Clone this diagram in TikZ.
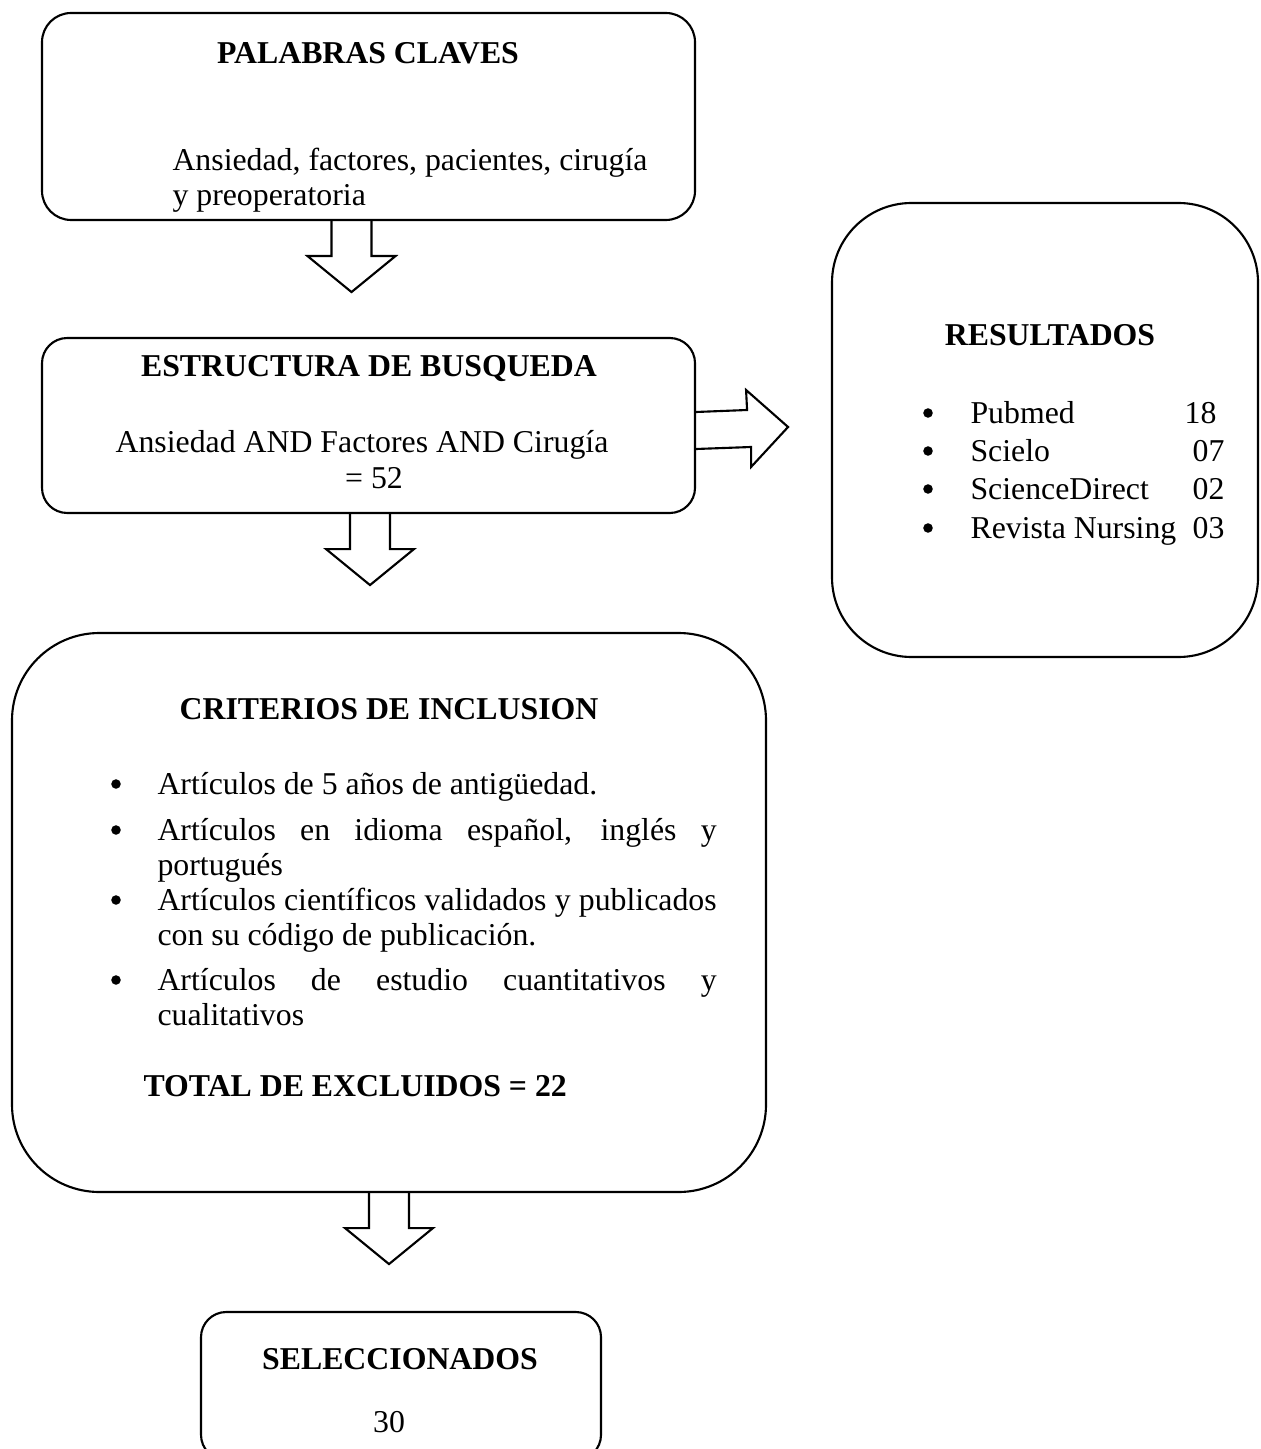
\documentclass[tikz,border=0pt]{standalone}
\usepackage{fontspec}
\setmainfont{Liberation Serif}
\usetikzlibrary{fit,calc}

\newcommand{\fullline}[1]{\makebox[211pt][s]{#1}}

\tikzset{
	box/.style={draw, line width=0.8pt, inner sep=0pt},
	heading/.style={font=\fontsize{12}{13.5}\selectfont\bfseries, anchor=base},
	line/.style={anchor=base west},
	dot/.style={circle, fill, minimum size=3.6pt},
	blk/.style={draw, line width=0.8pt, line join=miter},
	downblk/.pic={\draw[blk] (-20,0) -- (-20,35) -- (-44,35) -- (0,71) -- (44,35) -- (20,35) -- (20,0);},
	rightblk/.pic={\draw[blk] (0,-13.5) -- (51,-15.5) -- (50,-35.5) -- (92,1.5) -- (55,41.5) -- (55,21.5) -- (0,23.5);}
}

\begin{document}
\begin{tikzpicture}[x=0.3774pt, y=-0.3774pt, every node/.style={inner sep=0pt, font=\fontsize{12}{13.5}\selectfont}]
	\useasboundingbox (0,0) rectangle (1260,1449);

	% boxes
	\node[box, rounded corners=11pt, fit={(42,13) (695,220)}] (pal) {};
	\node[box, rounded corners=9.5pt, fit={(42,338) (695,513)}] (est) {};
	\node[box, rounded corners=30pt, fit={(832,203) (1258,657)}] (res) {};
	\node[box, rounded corners=33pt, fit={(12,633) (766,1192)}] (cri) {};
	\node[box, rounded corners=9.5pt, fit={(201,1312) (601,1460)}] (sel) {};

	% block arrows
	\pic at ($(pal.south)+(-17,0)$) {downblk};
	\pic at ($(est.south)+(1.5,0)$) {downblk};
	\pic at ($(cri.south)+(0,0)$) {downblk};
	\pic at (est.east) {rightblk};

	% palabras claves
	\node[heading] (palT) at (368,64) {PALABRAS CLAVES};
	\node[line] (pal1) at (172,171) {Ansiedad, factores, pacientes, cirugía};
	\node[line] (pal2) at (172,206) {y preoperatoria};

	% estructura de busqueda
	\node[heading] (estT) at (369,377) {ESTRUCTURA DE BUSQUEDA};
	\node[anchor=base] (est1) at (362,452) {Ansiedad AND Factores AND Cirugía};
	\node[anchor=base] (est2) at (374,488) {= 52};

	% resultados
	\node[heading] (resT) at (1050,346) {RESULTADOS};
	\foreach \y/\name/\num/\numx [count=\i] in {423/Pubmed/18/1217, 461/Scielo/07/1225, 499/ScienceDirect/02/1225, 538/Revista Nursing/03/1225}{
		\node[dot] (rb\i) at (928,\y-10) {};
		\node[line] (rn\i) at (970,\y) {\name};
		\node[anchor=base east] (rv\i) at (\numx,\y) {\num};
	}

	% criterios de inclusion
	\node[heading] (criT) at (389,719) {CRITERIOS DE INCLUSION};
	\foreach \y [count=\i] in {794,840,910,990}
		\node[dot] (cb\i) at (116,\y-10) {};
	\node[line] (c1) at (157,794) {Artículos de 5 años de antigüedad.};
	\node[line] (c2) at (157,840) {\fullline{Artículos en idioma español, inglés y}};
	\node[line] (c3) at (157,875) {portugués};
	\node[line] (c4) at (157,910) {\fullline{Artículos científicos validados y publicados}};
	\node[line] (c5) at (157,945) {con su código de publicación.};
	\node[line] (c6) at (157,990) {\fullline{Artículos de estudio cuantitativos y}};
	\node[line] (c7) at (157,1025) {cualitativos};
	\node[heading, anchor=base west] (criB) at (143,1096) {TOTAL DE EXCLUIDOS = 22};

	% seleccionados
	\node[heading] (selT) at (400,1369) {SELECCIONADOS};
	\node[anchor=base] (sel1) at (389,1432) {30};
\end{tikzpicture}
\end{document}
